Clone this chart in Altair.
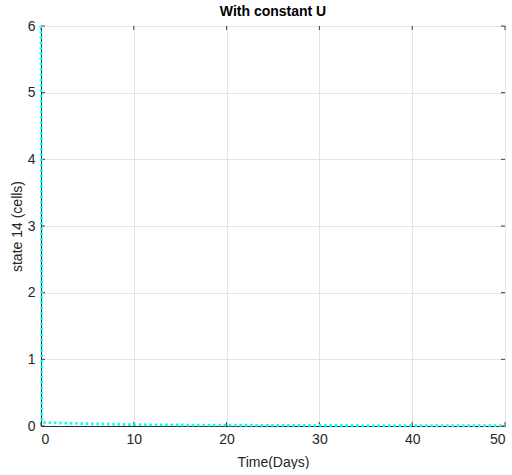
import altair as alt
import pandas as pd

time_days = [0, 0.1, 0.3, 1, 2, 5, 10, 15, 20, 30, 40, 50]
state14 = [6.0, 0.06, 0.055, 0.05, 0.045, 0.035, 0.02, 0.015, 0.012, 0.008, 0.006, 0.005]
x_ticks = [0, 10, 20, 30, 40, 50]
y_ticks = [0, 1, 2, 3, 4, 5, 6]

df = pd.DataFrame({"t": time_days, "v": state14})
W, H = 464, 400
font = "Liberation Sans"

xs = alt.Scale(domain=[0, 50], nice=False)
ys = alt.Scale(domain=[0, 6], nice=False)

xaxis = alt.Axis(values=x_ticks, grid=True, tickSize=0, labelPadding=6,
                 titlePadding=9, format="d")
yaxis = alt.Axis(values=y_ticks, grid=True, tickSize=0, labelPadding=6,
                 titlePadding=3, format="d")

tick_col = "#404040"
xt = pd.DataFrame({"t": x_ticks})
yt = pd.DataFrame({"v": y_ticks})

xb = alt.Chart(xt).mark_rule(color=tick_col, strokeWidth=1).encode(
    x=alt.X("t:Q", scale=xs, title="Time(Days)", axis=xaxis),
    y=alt.value(H), y2=alt.value(H - 4))
xtop = alt.Chart(xt).mark_rule(color=tick_col, strokeWidth=1).encode(
    x=alt.X("t:Q", scale=xs, title="Time(Days)", axis=xaxis),
    y=alt.value(0), y2=alt.value(4))
yl = alt.Chart(yt).mark_rule(color=tick_col, strokeWidth=1).encode(
    y=alt.Y("v:Q", scale=ys, title="state 14 (cells)", axis=yaxis),
    x=alt.value(0), x2=alt.value(4))
yr = alt.Chart(yt).mark_rule(color=tick_col, strokeWidth=1).encode(
    y=alt.Y("v:Q", scale=ys, title="state 14 (cells)", axis=yaxis),
    x=alt.value(W), x2=alt.value(W - 4))

line = alt.Chart(df).mark_line(
    color="#00FFFF", strokeWidth=2.8, strokeDash=[2.5, 2.8]
).encode(
    x=alt.X("t:Q", scale=xs, title="Time(Days)", axis=xaxis),
    y=alt.Y("v:Q", scale=ys, title="state 14 (cells)", axis=yaxis),
)

chart = alt.layer(xb, xtop, yl, yr, line).properties(
    width=W, height=H,
    background="white",
    title=alt.TitleParams("With constant U", font=font, fontSize=14,
                          fontWeight="bold", color="#000000", offset=0),
    padding={"left": 10, "top": 5, "right": 0, "bottom": 0},
).configure_view(
    stroke="#262626", strokeWidth=1
).configure_axis(
    labelFont=font, titleFont=font, labelFontSize=14, titleFontSize=14,
    labelColor="#262626", titleColor="#262626", titleFontWeight="normal",
    gridColor="#e3e3e3", gridWidth=1, domainColor="#262626", domainWidth=1,
)

chart.save("out.html", embed_options={"renderer": "svg", "actions": False})
